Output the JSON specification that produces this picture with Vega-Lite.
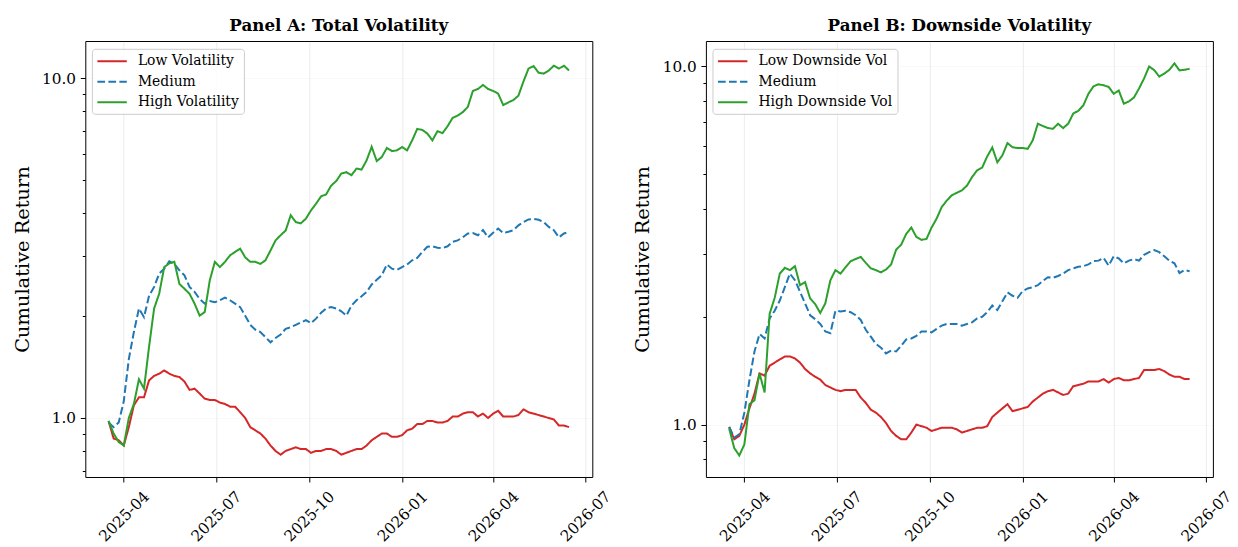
{
"$schema": "https://vega.github.io/schema/vega-lite/v6.json",
"background": "white",
"padding": {"left": 11.3, "top": 17, "right": 5, "bottom": 0},
"bounds": "flush",
"spacing": 113.6,
"config": {
 "font": "DejaVu Serif",
 "view": {"stroke": "black", "strokeWidth": 1},
 "axis": {"labelFont": "DejaVu Serif", "titleFont": "DejaVu Serif", "labelColor": "black", "titleColor": "black", "tickColor": "black", "tickWidth": 1, "domain": false, "labelFontSize": 15.3, "titleFontSize": 19.4, "titleFontWeight": "normal", "gridColor": "#b0b0b0", "gridOpacity": 0.3, "gridWidth": 0.8},
 "title": {"font": "DejaVu Serif", "fontSize": 16.7, "fontWeight": "bold", "color": "black", "offset": 6.5},
 "legend": {"title": null, "orient": "none", "legendX": 6.6, "legendY": 7.8, "symbolType": "M-1,0H3.2", "symbolSize": 196, "symbolStrokeWidth": 2, "labelFont": "DejaVu Serif", "labelFontSize": 13.9, "labelColor": "black", "labelOffset": 25.5, "rowPadding": 5.5, "padding": 4.5, "strokeColor": "#cccccc", "fillColor": "rgba(255,255,255,0.8)", "cornerRadius": 3}
},
"datasets": {
"a": [
{"d":"2025-03-17","L":0.98,"M":0.97,"H":0.98},
{"d":"2025-03-22","L":0.87,"M":0.94,"H":0.90},
{"d":"2025-03-27","L":0.86,"M":0.97,"H":0.85},
{"d":"2025-04-01","L":0.83,"M":1.12,"H":0.83},
{"d":"2025-04-06","L":0.94,"M":1.49,"H":1.00},
{"d":"2025-04-11","L":1.09,"M":1.79,"H":1.10},
{"d":"2025-04-16","L":1.15,"M":2.10,"H":1.30},
{"d":"2025-04-21","L":1.15,"M":1.98,"H":1.22},
{"d":"2025-04-26","L":1.29,"M":2.29,"H":1.62},
{"d":"2025-05-01","L":1.33,"M":2.43,"H":2.10},
{"d":"2025-05-06","L":1.35,"M":2.66,"H":2.32},
{"d":"2025-05-11","L":1.38,"M":2.75,"H":2.78},
{"d":"2025-05-16","L":1.35,"M":2.89,"H":2.85},
{"d":"2025-05-21","L":1.33,"M":2.84,"H":2.88},
{"d":"2025-05-26","L":1.32,"M":2.72,"H":2.48},
{"d":"2025-05-31","L":1.28,"M":2.63,"H":2.40},
{"d":"2025-06-05","L":1.21,"M":2.43,"H":2.32},
{"d":"2025-06-10","L":1.22,"M":2.35,"H":2.17},
{"d":"2025-06-15","L":1.18,"M":2.24,"H":2.00},
{"d":"2025-06-20","L":1.14,"M":2.17,"H":2.05},
{"d":"2025-06-25","L":1.13,"M":2.21,"H":2.54},
{"d":"2025-06-30","L":1.13,"M":2.19,"H":2.88},
{"d":"2025-07-05","L":1.11,"M":2.22,"H":2.78},
{"d":"2025-07-10","L":1.10,"M":2.26,"H":2.88},
{"d":"2025-07-15","L":1.08,"M":2.22,"H":3.01},
{"d":"2025-07-20","L":1.08,"M":2.17,"H":3.08},
{"d":"2025-07-25","L":1.04,"M":2.12,"H":3.15},
{"d":"2025-07-30","L":1.00,"M":2.00,"H":2.97},
{"d":"2025-08-04","L":0.94,"M":1.88,"H":2.88},
{"d":"2025-08-09","L":0.92,"M":1.82,"H":2.88},
{"d":"2025-08-14","L":0.90,"M":1.79,"H":2.84},
{"d":"2025-08-19","L":0.87,"M":1.73,"H":2.91},
{"d":"2025-08-24","L":0.83,"M":1.67,"H":3.11},
{"d":"2025-08-29","L":0.80,"M":1.72,"H":3.33},
{"d":"2025-09-03","L":0.78,"M":1.76,"H":3.45},
{"d":"2025-09-08","L":0.80,"M":1.83,"H":3.56},
{"d":"2025-09-13","L":0.81,"M":1.85,"H":3.95},
{"d":"2025-09-18","L":0.82,"M":1.88,"H":3.77},
{"d":"2025-09-23","L":0.81,"M":1.91,"H":3.74},
{"d":"2025-09-28","L":0.81,"M":1.94,"H":3.86},
{"d":"2025-10-03","L":0.79,"M":1.90,"H":4.08},
{"d":"2025-10-08","L":0.80,"M":1.96,"H":4.27},
{"d":"2025-10-13","L":0.80,"M":2.04,"H":4.49},
{"d":"2025-10-18","L":0.81,"M":2.10,"H":4.55},
{"d":"2025-10-23","L":0.81,"M":2.12,"H":4.83},
{"d":"2025-10-28","L":0.80,"M":2.10,"H":4.98},
{"d":"2025-11-02","L":0.78,"M":2.06,"H":5.24},
{"d":"2025-11-07","L":0.79,"M":2.00,"H":5.29},
{"d":"2025-11-12","L":0.80,"M":2.14,"H":5.18},
{"d":"2025-11-17","L":0.81,"M":2.22,"H":5.42},
{"d":"2025-11-22","L":0.81,"M":2.28,"H":5.38},
{"d":"2025-11-27","L":0.83,"M":2.35,"H":5.73},
{"d":"2025-12-02","L":0.86,"M":2.47,"H":6.28},
{"d":"2025-12-07","L":0.88,"M":2.55,"H":5.70},
{"d":"2025-12-12","L":0.90,"M":2.63,"H":5.86},
{"d":"2025-12-17","L":0.90,"M":2.83,"H":6.23},
{"d":"2025-12-22","L":0.88,"M":2.75,"H":6.10},
{"d":"2025-12-27","L":0.88,"M":2.73,"H":6.13},
{"d":"2026-01-01","L":0.89,"M":2.78,"H":6.27},
{"d":"2026-01-06","L":0.92,"M":2.83,"H":6.13},
{"d":"2026-01-11","L":0.93,"M":2.91,"H":6.56},
{"d":"2026-01-16","L":0.96,"M":2.96,"H":7.09},
{"d":"2026-01-21","L":0.96,"M":3.08,"H":7.04},
{"d":"2026-01-26","L":0.98,"M":3.19,"H":6.87},
{"d":"2026-01-31","L":0.98,"M":3.20,"H":6.56},
{"d":"2026-02-05","L":0.97,"M":3.17,"H":6.98},
{"d":"2026-02-10","L":0.97,"M":3.16,"H":6.89},
{"d":"2026-02-15","L":0.98,"M":3.20,"H":7.22},
{"d":"2026-02-20","L":1.01,"M":3.30,"H":7.64},
{"d":"2026-02-25","L":1.01,"M":3.33,"H":7.76},
{"d":"2026-03-02","L":1.03,"M":3.40,"H":7.94},
{"d":"2026-03-07","L":1.04,"M":3.49,"H":8.23},
{"d":"2026-03-12","L":1.04,"M":3.50,"H":9.17},
{"d":"2026-03-17","L":1.01,"M":3.45,"H":9.29},
{"d":"2026-03-22","L":1.03,"M":3.57,"H":9.55},
{"d":"2026-03-27","L":1.00,"M":3.40,"H":9.29},
{"d":"2026-04-01","L":1.03,"M":3.51,"H":9.17},
{"d":"2026-04-06","L":1.05,"M":3.61,"H":9.00},
{"d":"2026-04-11","L":1.01,"M":3.50,"H":8.33},
{"d":"2026-04-16","L":1.01,"M":3.53,"H":8.48},
{"d":"2026-04-21","L":1.01,"M":3.57,"H":8.62},
{"d":"2026-04-26","L":1.02,"M":3.69,"H":8.88},
{"d":"2026-05-01","L":1.06,"M":3.77,"H":9.78},
{"d":"2026-05-06","L":1.04,"M":3.84,"H":10.67},
{"d":"2026-05-11","L":1.03,"M":3.85,"H":10.85},
{"d":"2026-05-16","L":1.02,"M":3.83,"H":10.37},
{"d":"2026-05-21","L":1.01,"M":3.77,"H":10.31},
{"d":"2026-05-26","L":1.00,"M":3.65,"H":10.53},
{"d":"2026-05-31","L":0.99,"M":3.57,"H":10.88},
{"d":"2026-06-05","L":0.95,"M":3.40,"H":10.67},
{"d":"2026-06-10","L":0.95,"M":3.49,"H":10.88},
{"d":"2026-06-15","L":0.94,"M":3.53,"H":10.53}
],
"b": [
{"d":"2025-03-17","L":0.985,"M":0.985,"H":0.975},
{"d":"2025-03-22","L":0.91,"M":0.92,"H":0.86},
{"d":"2025-03-27","L":0.93,"M":0.94,"H":0.82},
{"d":"2025-04-01","L":1.00,"M":1.08,"H":0.88},
{"d":"2025-04-06","L":1.11,"M":1.33,"H":1.14},
{"d":"2025-04-11","L":1.22,"M":1.60,"H":1.17},
{"d":"2025-04-16","L":1.39,"M":1.79,"H":1.39},
{"d":"2025-04-21","L":1.37,"M":1.74,"H":1.23},
{"d":"2025-04-26","L":1.46,"M":1.98,"H":2.04},
{"d":"2025-05-01","L":1.49,"M":2.08,"H":2.26},
{"d":"2025-05-06","L":1.52,"M":2.22,"H":2.64},
{"d":"2025-05-11","L":1.55,"M":2.42,"H":2.74},
{"d":"2025-05-16","L":1.55,"M":2.64,"H":2.70},
{"d":"2025-05-21","L":1.53,"M":2.53,"H":2.77},
{"d":"2025-05-26","L":1.49,"M":2.35,"H":2.45},
{"d":"2025-05-31","L":1.43,"M":2.18,"H":2.50},
{"d":"2025-06-05","L":1.39,"M":2.02,"H":2.25},
{"d":"2025-06-10","L":1.36,"M":1.97,"H":2.17},
{"d":"2025-06-15","L":1.335,"M":1.91,"H":2.05},
{"d":"2025-06-20","L":1.29,"M":1.82,"H":2.18},
{"d":"2025-06-25","L":1.27,"M":1.80,"H":2.53},
{"d":"2025-06-30","L":1.25,"M":2.08,"H":2.70},
{"d":"2025-07-05","L":1.24,"M":2.07,"H":2.64},
{"d":"2025-07-10","L":1.25,"M":2.08,"H":2.75},
{"d":"2025-07-15","L":1.25,"M":2.06,"H":2.86},
{"d":"2025-07-20","L":1.25,"M":2.02,"H":2.90},
{"d":"2025-07-25","L":1.19,"M":1.96,"H":2.94},
{"d":"2025-07-30","L":1.15,"M":1.84,"H":2.83},
{"d":"2025-08-04","L":1.10,"M":1.76,"H":2.73},
{"d":"2025-08-09","L":1.08,"M":1.68,"H":2.70},
{"d":"2025-08-14","L":1.05,"M":1.64,"H":2.66},
{"d":"2025-08-19","L":1.01,"M":1.58,"H":2.71},
{"d":"2025-08-24","L":0.96,"M":1.61,"H":2.80},
{"d":"2025-08-29","L":0.93,"M":1.60,"H":3.08},
{"d":"2025-09-03","L":0.91,"M":1.66,"H":3.18},
{"d":"2025-09-08","L":0.91,"M":1.73,"H":3.41},
{"d":"2025-09-13","L":0.95,"M":1.74,"H":3.55},
{"d":"2025-09-18","L":1.00,"M":1.77,"H":3.34},
{"d":"2025-09-23","L":0.99,"M":1.82,"H":3.28},
{"d":"2025-09-28","L":0.98,"M":1.82,"H":3.30},
{"d":"2025-10-03","L":0.96,"M":1.81,"H":3.55},
{"d":"2025-10-08","L":0.97,"M":1.85,"H":3.76},
{"d":"2025-10-13","L":0.98,"M":1.89,"H":4.05},
{"d":"2025-10-18","L":0.98,"M":1.91,"H":4.22},
{"d":"2025-10-23","L":0.98,"M":1.91,"H":4.37},
{"d":"2025-10-28","L":0.97,"M":1.91,"H":4.44},
{"d":"2025-11-02","L":0.95,"M":1.89,"H":4.51},
{"d":"2025-11-07","L":0.96,"M":1.91,"H":4.65},
{"d":"2025-11-12","L":0.97,"M":1.93,"H":4.91},
{"d":"2025-11-17","L":0.98,"M":1.98,"H":5.13},
{"d":"2025-11-22","L":0.98,"M":2.00,"H":5.22},
{"d":"2025-11-27","L":0.99,"M":2.06,"H":5.61},
{"d":"2025-12-02","L":1.05,"M":2.15,"H":5.94},
{"d":"2025-12-07","L":1.08,"M":2.09,"H":5.40},
{"d":"2025-12-12","L":1.11,"M":2.21,"H":5.65},
{"d":"2025-12-17","L":1.14,"M":2.34,"H":6.11},
{"d":"2025-12-22","L":1.09,"M":2.29,"H":5.95},
{"d":"2025-12-27","L":1.10,"M":2.26,"H":5.92},
{"d":"2026-01-01","L":1.11,"M":2.36,"H":5.92},
{"d":"2026-01-06","L":1.12,"M":2.40,"H":5.89},
{"d":"2026-01-11","L":1.16,"M":2.42,"H":6.22},
{"d":"2026-01-16","L":1.19,"M":2.45,"H":6.92},
{"d":"2026-01-21","L":1.22,"M":2.52,"H":6.82},
{"d":"2026-01-26","L":1.24,"M":2.58,"H":6.73},
{"d":"2026-01-31","L":1.25,"M":2.57,"H":6.70},
{"d":"2026-02-05","L":1.23,"M":2.60,"H":6.92},
{"d":"2026-02-10","L":1.21,"M":2.64,"H":6.73},
{"d":"2026-02-15","L":1.22,"M":2.70,"H":6.92},
{"d":"2026-02-20","L":1.28,"M":2.73,"H":7.39},
{"d":"2026-02-25","L":1.29,"M":2.76,"H":7.52},
{"d":"2026-03-02","L":1.30,"M":2.77,"H":7.79},
{"d":"2026-03-07","L":1.32,"M":2.80,"H":8.39},
{"d":"2026-03-12","L":1.32,"M":2.86,"H":8.80},
{"d":"2026-03-17","L":1.32,"M":2.87,"H":8.92},
{"d":"2026-03-22","L":1.34,"M":2.92,"H":8.86},
{"d":"2026-03-27","L":1.31,"M":2.78,"H":8.77},
{"d":"2026-04-01","L":1.34,"M":2.95,"H":8.39},
{"d":"2026-04-06","L":1.35,"M":2.91,"H":8.57},
{"d":"2026-04-11","L":1.33,"M":2.82,"H":7.87},
{"d":"2026-04-16","L":1.33,"M":2.87,"H":7.99},
{"d":"2026-04-21","L":1.34,"M":2.90,"H":8.19},
{"d":"2026-04-26","L":1.35,"M":2.87,"H":8.68},
{"d":"2026-05-01","L":1.42,"M":2.98,"H":9.26},
{"d":"2026-05-06","L":1.42,"M":3.03,"H":10.0},
{"d":"2026-05-11","L":1.42,"M":3.07,"H":9.77},
{"d":"2026-05-16","L":1.43,"M":3.03,"H":9.37},
{"d":"2026-05-21","L":1.41,"M":2.95,"H":9.55},
{"d":"2026-05-26","L":1.38,"M":2.87,"H":9.79},
{"d":"2026-05-31","L":1.36,"M":2.82,"H":10.2},
{"d":"2026-06-05","L":1.36,"M":2.65,"H":9.75},
{"d":"2026-06-10","L":1.34,"M":2.70,"H":9.79},
{"d":"2026-06-15","L":1.34,"M":2.68,"H":9.85}
]
},
"hconcat": [
{
 "width": 507, "height": 436,
 "title": "Panel A: Total Volatility",
 "data": {"name": "a"},
 "transform": [{"fold": ["L","M","H"], "as": ["k","v"]}],
 "mark": {"type": "line", "strokeWidth": 2, "clip": true},
 "encoding": {
  "x": {"field": "d", "type": "temporal",
   "scale": {"type": "utc", "domain": [{"year":2025,"month":2,"date":22,"utc":true},{"year":2026,"month":7,"date":8,"utc":true}]},
   "axis": {"title": null, "values": [{"year":2025,"month":4,"date":1,"utc":true},{"year":2025,"month":7,"date":1,"utc":true},{"year":2025,"month":10,"date":1,"utc":true},{"year":2026,"month":1,"date":1,"utc":true},{"year":2026,"month":4,"date":1,"utc":true},{"year":2026,"month":7,"date":1,"utc":true}],
    "format": "%Y-%m", "labelAngle": -45, "labelAlign": "center", "labelBaseline": "middle", "labelPadding": 34, "tickSize": 5, "grid": true, "labelOverlap": false, "labelFlush": false}},
  "y": {"field": "v", "type": "quantitative",
   "scale": {"type": "log", "domain": [0.6705, 12.86], "nice": false, "zero": false},
   "axis": {"title": "Cumulative Return", "values": [0.7,0.8,0.9,1,2,3,4,5,6,7,8,9,10],
    "labelExpr": "datum.value == 1 || datum.value == 10 ? format(datum.value, '.1f') : ''",
    "tickSize": {"condition": {"test": "datum.value == 1 || datum.value == 10", "value": 5}, "value": 3},
    "gridOpacity": {"condition": {"test": "datum.value == 1 || datum.value == 10", "value": 0.3}, "value": 0},
    "labelPadding": 4.7, "titlePadding": 9.3, "labelOverlap": false}},
  "color": {"field": "k", "type": "nominal", "scale": {"domain": ["L","M","H"], "range": ["#d62728","#1f77b4","#2ca02c"]},
   "legend": {"labelExpr": "datum.value == 'L' ? 'Low Volatility' : datum.value == 'M' ? 'Medium' : 'High Volatility'"}},
  "strokeDash": {"field": "k", "type": "nominal", "scale": {"domain": ["L","M","H"], "range": [[1,0],[7.7,3.3],[1,0]]},
   "legend": {"labelExpr": "datum.value == 'L' ? 'Low Volatility' : datum.value == 'M' ? 'Medium' : 'High Volatility'"}}
 }
},
{
 "width": 507, "height": 436,
 "title": "Panel B: Downside Volatility",
 "data": {"name": "b"},
 "transform": [{"fold": ["L","M","H"], "as": ["k","v"]}],
 "mark": {"type": "line", "strokeWidth": 2, "clip": true},
 "encoding": {
  "x": {"field": "d", "type": "temporal",
   "scale": {"type": "utc", "domain": [{"year":2025,"month":2,"date":22,"utc":true},{"year":2026,"month":7,"date":8,"utc":true}]},
   "axis": {"title": null, "values": [{"year":2025,"month":4,"date":1,"utc":true},{"year":2025,"month":7,"date":1,"utc":true},{"year":2025,"month":10,"date":1,"utc":true},{"year":2026,"month":1,"date":1,"utc":true},{"year":2026,"month":4,"date":1,"utc":true},{"year":2026,"month":7,"date":1,"utc":true}],
    "format": "%Y-%m", "labelAngle": -45, "labelAlign": "center", "labelBaseline": "middle", "labelPadding": 34, "tickSize": 5, "grid": true, "labelOverlap": false, "labelFlush": false}},
  "y": {"field": "v", "type": "quantitative",
   "scale": {"type": "log", "domain": [0.714, 11.78], "nice": false, "zero": false},
   "axis": {"title": "Cumulative Return", "values": [0.8,0.9,1,2,3,4,5,6,7,8,9,10],
    "labelExpr": "datum.value == 1 || datum.value == 10 ? format(datum.value, '.1f') : ''",
    "tickSize": {"condition": {"test": "datum.value == 1 || datum.value == 10", "value": 5}, "value": 3},
    "gridOpacity": {"condition": {"test": "datum.value == 1 || datum.value == 10", "value": 0.3}, "value": 0},
    "labelPadding": 4.7, "titlePadding": 9.3, "labelOverlap": false}},
  "color": {"field": "k", "type": "nominal", "scale": {"domain": ["L","M","H"], "range": ["#d62728","#1f77b4","#2ca02c"]},
   "legend": {"labelExpr": "datum.value == 'L' ? 'Low Downside Vol' : datum.value == 'M' ? 'Medium' : 'High Downside Vol'"}},
  "strokeDash": {"field": "k", "type": "nominal", "scale": {"domain": ["L","M","H"], "range": [[1,0],[7.7,3.3],[1,0]]},
   "legend": {"labelExpr": "datum.value == 'L' ? 'Low Downside Vol' : datum.value == 'M' ? 'Medium' : 'High Downside Vol'"}}
 }
}
],
"resolve": {"scale": {"color": "independent", "strokeDash": "independent", "x": "independent", "y": "independent"}, "legend": {"color": "independent", "strokeDash": "independent"}}
}
